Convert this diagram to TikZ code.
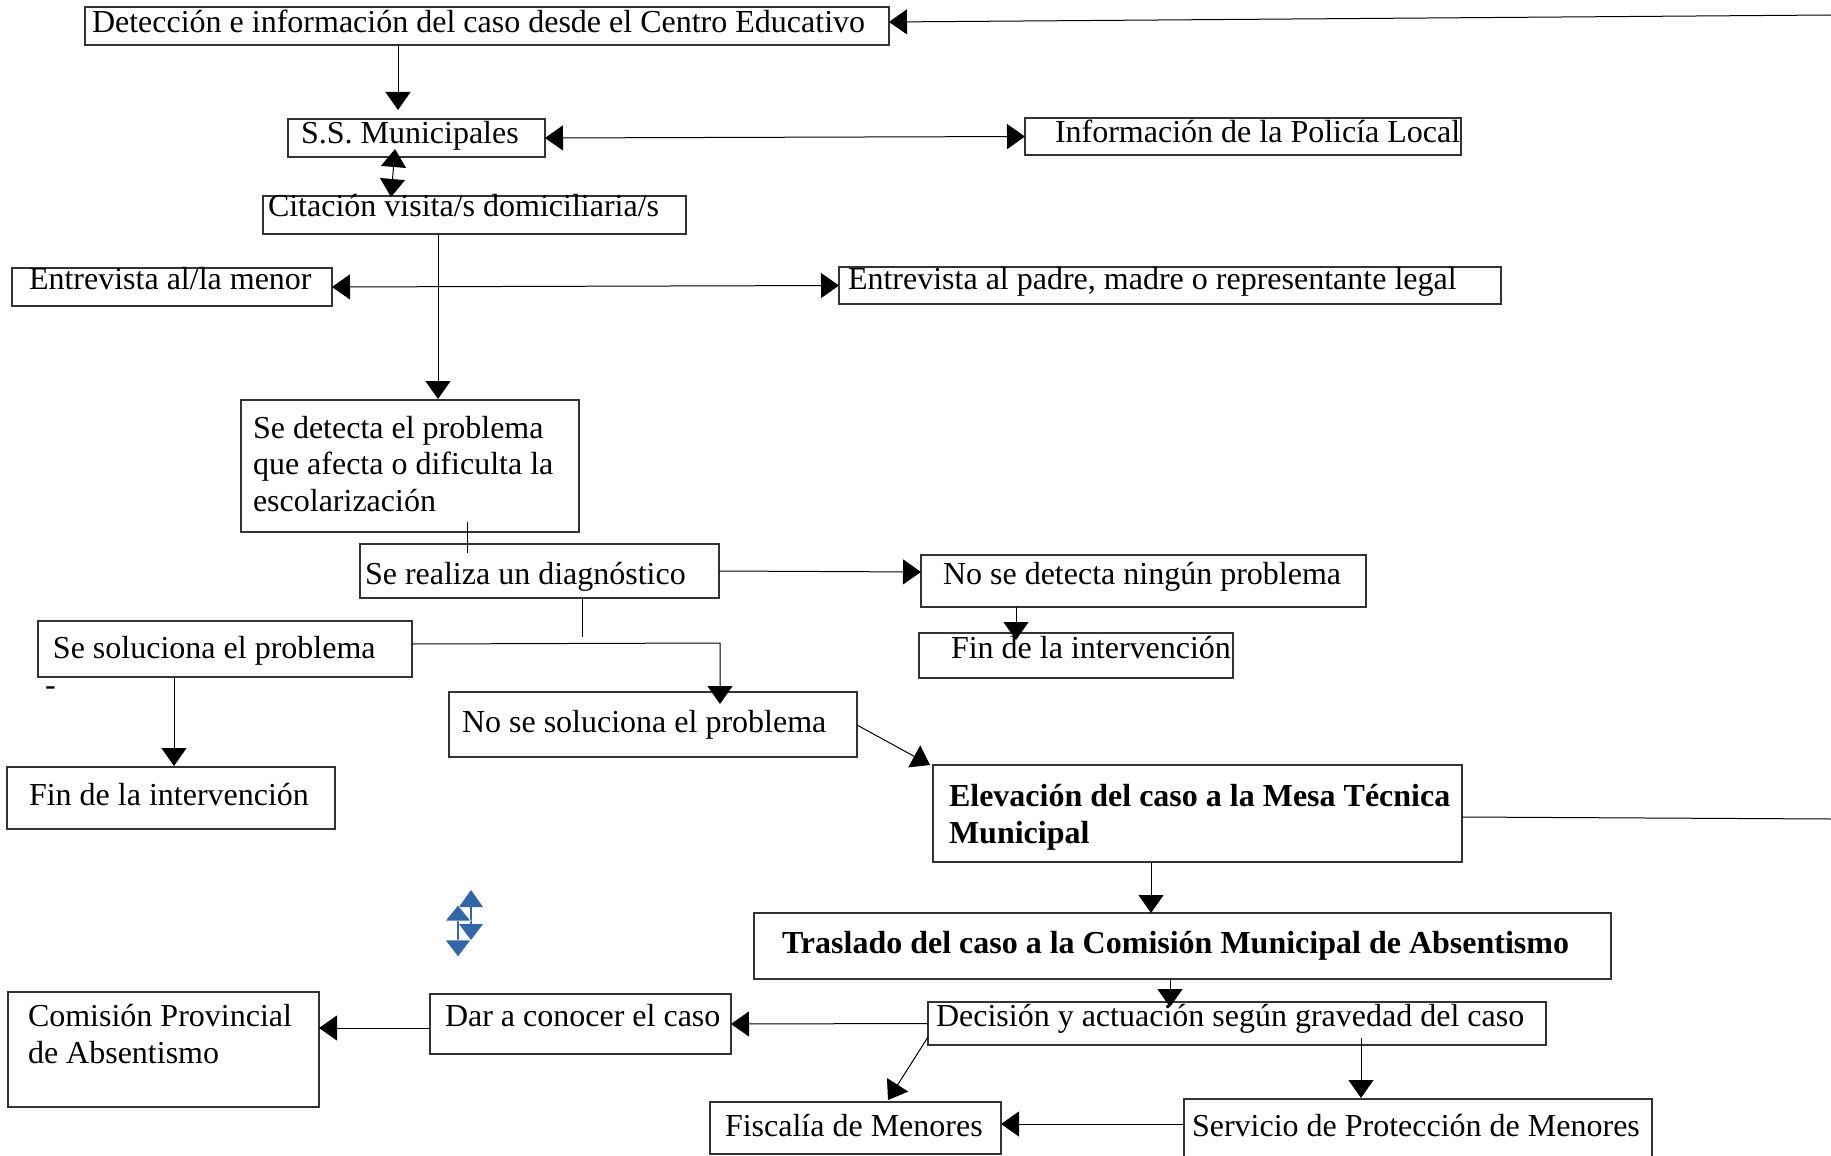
\documentclass[tikz,border=0pt]{standalone}
\usepackage{fontspec}
\setmainfont{Liberation Serif}
\usetikzlibrary{arrows.meta,calc}
\newcommand{\mybox}[5]{\node[bx, minimum width={(#4-#2)*0.5pt}, minimum height={(#5-#3)*0.5pt}] (#1) at ({(#2+#4)/2},{(#3+#5)/2}) {};}
\begin{document}
\begin{tikzpicture}[x=0.5pt, y=-0.5pt,
  >={Triangle[length=9pt,width=12.5pt]},
  bx/.style={draw=black!80, line width=0.6pt, inner sep=0pt, outer sep=0pt},
  txt/.style={anchor=base west, inner sep=0pt, outer sep=0pt, yshift=-0.5pt, font=\fontsize{16}{18}\selectfont},
  btxt/.style={txt, font=\fontsize{16}{18}\selectfont\bfseries},
  arr/.style={->, line width=0.5pt},
  dbl/.style={<->, line width=0.5pt},
  ln/.style={line width=0.5pt}]
\fill[white] (0,0) rectangle (1831,1156);
\useasboundingbox (0,0) rectangle (1831,1156);

% boxes
\mybox{det}{85}{7}{889}{45}
\mybox{ss}{288}{119}{545}{157}
\mybox{pol}{1025}{118}{1461}{155}
\mybox{cit}{263}{196}{686}{234}
\mybox{men}{12}{268}{332}{306}
\mybox{pad}{839}{267}{1501}{304}
\mybox{sd}{241}{400}{579}{532}
\mybox{diag}{360}{544}{719}{598}
\mybox{nodet}{921}{555}{1366}{607}
\mybox{fintwo}{919}{633}{1233}{678}
\mybox{sol}{38}{621}{412}{677}
\mybox{nosol}{449}{692}{857}{757}
\mybox{finone}{7}{767}{335}{829}
\mybox{elev}{933}{765}{1462}{862}
\mybox{tras}{754}{913}{1611}{979}
\mybox{dec}{928}{1002}{1546}{1045}
\mybox{dar}{430}{994}{731}{1054}
\mybox{com}{8}{992}{319}{1107}
\mybox{fisc}{710}{1102}{1001}{1154}
\mybox{serv}{1184}{1099}{1652}{1160}

% free ends
\coordinate (topR) at (1831,15);
\coordinate (elevR) at (1831,819);
\coordinate (diagEnd) at (582,637);

% connectors
\draw[arr] (topR) -- ($(det.north east)+(0,15)$);
\draw[arr] ($(det.south west)+(313,0)$) -- ($(ss.north west)+(110,-9)$);
\draw[dbl] ($(ss.south west)+(107,-8)$) -- ($(cit.north west)+(128,1)$);
\draw[dbl] (ss.east) -- (pol.west);
\draw[arr] ($(cit.south west)+(175,0)$) -- ($(sd.north west)+(197,-1)$);
\draw[dbl] (men.east) -- (pad.west);
\draw[ln] ($(sd.south west)+(226,-10)$) -- ($(diag.north west)+(107,9)$);
\draw[arr] (diag.east) -- ($(nodet.north west)+(0,17)$);
\draw[arr] ($(nodet.south west)+(95,0)$) -- ($(fintwo.north west)+(97,7)$);
\draw[ln] ($(diag.south west)+(222,0)$) -- (diagEnd);
\draw[arr] ($(sol.north east)+(0,23)$) -- ($(nosol.north west)+(271,-49)$) -- ($(nosol.north west)+(271,12)$);
\draw[arr] ($(sol.south west)+(136,0)$) -- ($(finone.north west)+(167,-1)$);
\draw[arr] ($(nosol.north east)+(0,33)$) -- ($(elev.north west)+(-3,0)$);
\draw[ln] ($(elev.north east)+(0,52)$) -- (elevR);
\draw[arr] ($(elev.south west)+(218,0)$) -- ($(tras.north west)+(397,0)$);
\draw[arr] ($(tras.south west)+(416,0)$) -- ($(dec.north west)+(242,5)$);
\draw[arr] (dec.west) -- (dar.east);
\draw[arr] ($(dar.south west)+(0,-26)$) -- ($(com.north east)+(0,36)$);
\draw[arr] ($(dec.south west)+(0,-8)$) -- ($(fisc.north west)+(178,-2)$);
\draw[arr] ($(dec.south west)+(433,-7)$) -- ($(serv.north west)+(177,-1)$);
\draw[arr] ($(serv.north west)+(0,25)$) -- ($(fisc.north east)+(0,22)$);

% texts
\node[txt] (tdet) at (92,32) {Detección e información del caso desde el Centro Educativo};
\node[txt] (tss) at (301,142) {S.S. Municipales};
\node[txt] (tpol) at (1055,141) {Información de la Policía Local};
\node[txt] (tcit) at (268,215) {Citación visita/s domiciliaria/s};
\node[txt] (tmen) at (29,288) {Entrevista al/la menor};
\node[txt] (tpad) at (848,288) {Entrevista al padre, madre o representante legal};
\node[txt] (tsda) at (253,437) {Se detecta el problema};
\node[txt] (tsdb) at (253,473) {que afecta o dificulta la};
\node[txt] (tsdc) at (253,510) {escolarización};
\node[txt] (tdiag) at (365,583) {Se realiza un diagnóstico};
\node[txt] (tnodet) at (943,583) {No se detecta ningún problema};
\node[txt] (tfintwo) at (951,657) {Fin de la intervención};
\node[txt] (tsol) at (53,657) {Se soluciona el problema};
\node[txt] (tdash) at (45,694) {-};
\node[txt] (tnosol) at (462,731) {No se soluciona el problema};
\node[txt] (tfinone) at (29,804) {Fin de la intervención};
\node[btxt] (televa) at (949,805) {Elevación del caso a la Mesa Técnica};
\node[btxt] (televb) at (949,842) {Municipal};
\node[btxt] (ttras) at (782,952) {Traslado del caso a la Comisión Municipal de Absentismo};
\node[txt] (tdec) at (936,1025) {Decisión y actuación según gravedad del caso};
\node[txt] (tdar) at (445,1025) {Dar a conocer el caso};
\node[txt] (tcoma) at (28,1025) {Comisión Provincial};
\node[txt] (tcomb) at (28,1062) {de Absentismo};
\node[txt] (tfisc) at (725,1135) {Fiscalía de Menores};
\node[txt] (tserv) at (1192,1135) {Servicio de Protección de Menores};

% blue symbol
\definecolor{symblue}{RGB}{52,101,164}
\draw[symblue, line width=0.6pt] (471,907) -- (471,924) (458,921) -- (458,940);
\fill[symblue] (459,907) -- (483,907) -- (471,890) -- cycle;
\fill[symblue] (459,924) -- (483,924) -- (471,940) -- cycle;
\fill[symblue, draw=white, line width=0.3pt] (445,921) -- (471,921) -- (458,905) -- cycle;
\fill[symblue, draw=white, line width=0.3pt] (445,940) -- (471,940) -- (458,957) -- cycle;
\end{tikzpicture}
\end{document}
